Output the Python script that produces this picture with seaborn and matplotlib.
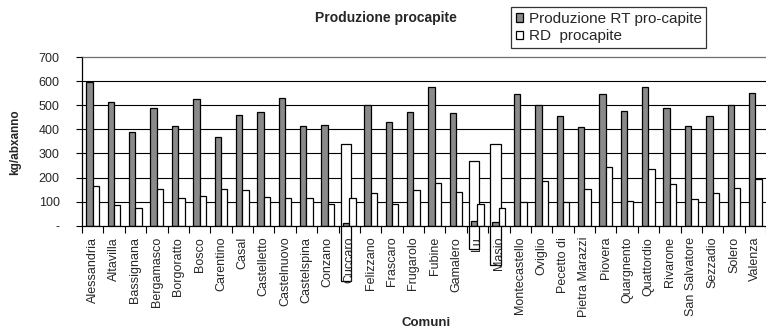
import numpy as np
import pandas as pd
import matplotlib
matplotlib.use("Agg")
import matplotlib.pyplot as plt
import seaborn as sns

comuni = [
    "Alessandria", "Altavilla", "Bassignana", "Bergamasco", "Borgoratto",
    "Bosco", "Carentino", "Casal", "Castelletto", "Castelnuovo",
    "Castelspina", "Conzano", "Cuccaro", "Felizzano", "Frascaro",
    "Frugarolo", "Fubine", "Gamalero", "Lu", "Masio", "Montecastello",
    "Oviglio", "Pecetto di", "Pietra Marazzi", "Piovera", "Quargnento",
    "Quattordio", "Rivarone", "San Salvatore", "Sezzadio", "Solero",
    "Valenza",
]
rt_procapite = [
    595, 512, 387, 488, 413, 526, 366, 459, 471, 530,
    412, 417, 10, 500, 429, 471, 576, 467, 20, 14, 546,
    500, 454, 408, 546, 475, 576, 488, 413, 454, 500,
    550,
]
rd_procapite = [
    166, 84, 75, 154, 113, 125, 154, 150, 121, 117,
    113, 88, 116, 134, 92, 150, 176, 138, 88, 72, 100,
    184, 100, 154, 242, 104, 234, 171, 109, 134, 158,
    192,
]
serie = ["Produzione RT pro-capite", "RD  procapite"]

# outlined boxes around some category labels (top, bottom in kg/abxanno)
riquadri_comuni = ["Cuccaro", "Lu", "Masio"]
riquadri_alto = [339, 268, 341]
riquadri_basso = [-230, -97, -164]

y_ticks = [0, 100, 200, 300, 400, 500, 600, 700]
y_tick_labels = ["-", "100", "200", "300", "400", "500", "600", "700"]

df = pd.DataFrame({
    "Comune": comuni * 2,
    "valore": rt_procapite + rd_procapite,
    "serie": [serie[0]] * len(comuni) + [serie[1]] * len(comuni),
})

sns.set_style("white")
plt.rcParams["font.family"] = ["Liberation Sans", "DejaVu Sans"]

W, H = 766, 330
fig = plt.figure(figsize=(W / 100, H / 100), dpi=100)
ax = fig.add_axes([82 / W, 1 - 225.7 / H, (W - 82) / W, (225.7 - 57) / H])

grigio = "#8a8a8a"
bar_w = 0.6
sns.barplot(
    data=df, x="Comune", y="valore", hue="serie", order=comuni,
    hue_order=serie, palette=[grigio, "white"], edgecolor="black",
    linewidth=0.9, width=bar_w, saturation=1, ax=ax, legend=True,
)

# label boxes drawn in the slot of the first series, behind the bars
pos = [comuni.index(c) - bar_w / 4 for c in riquadri_comuni]
ax.bar(
    pos, np.array(riquadri_alto) - np.array(riquadri_basso),
    bottom=riquadri_basso, width=0.48, color="white", edgecolor="black",
    linewidth=0.9, clip_on=False, zorder=0.9,
)

n = len(comuni)
ax.set_xlim(-0.5, n - 0.5)
ax.set_ylim(0, 700)
ax.set_yticks(y_ticks)
ax.set_yticklabels(y_tick_labels, fontsize=9)
ax.set_xticks(range(n))
ax.set_xticklabels(comuni, rotation=90, fontsize=9, va="top", ha="center")
ax.set_xticks(np.arange(-0.5, n, 1), minor=True)
ax.tick_params(axis="x", which="major", length=0, pad=8)
ax.tick_params(axis="x", which="minor", length=5, width=0.8,
               direction="out", color="black", bottom=True)
ax.tick_params(axis="y", length=4, width=0.8, direction="out",
               color="black", pad=12, left=True)

# horizontal gridlines under the bars; axis texts stay above everything
for y in y_ticks[1:-1]:
    ax.axhline(y, color="black", linewidth=0.8, zorder=0.5)
ax.grid(False)
ax.set_axisbelow(False)

for s in ["left", "bottom"]:
    ax.spines[s].set_color("black")
    ax.spines[s].set_linewidth(0.9)
ax.spines["right"].set_visible(False)
ax.spines["top"].set_color("#6e6e6e")
ax.spines["top"].set_linewidth(0.9)

ax.set_xlabel("")
ax.set_ylabel("")

handles, labels = ax.get_legend_handles_labels()
ax.get_legend().remove()
leg = fig.legend(
    handles, labels, loc="upper left",
    bbox_to_anchor=(511 / W, 1 - 7 / H), borderaxespad=0,
    fontsize=11, frameon=True, fancybox=False, shadow=False,
    handlelength=0.5, handleheight=0.5, handletextpad=0.35,
    borderpad=0.3, labelspacing=0.25,
)
leg.get_frame().set_edgecolor("black")
leg.get_frame().set_linewidth(0.9)

fig.text(386 / W, 1 - 18 / H, "Produzione procapite", ha="center",
         va="center", fontsize=10, fontweight="bold")
fig.text(15 / W, 1 - 142.5 / H, "kg/abxanno", ha="center", va="center",
         rotation=90, fontsize=8.5, fontweight="bold")
fig.text(426 / W, 1 - 323.5 / H, "Comuni", ha="center", va="center",
         fontsize=9.5, fontweight="bold")

fig.savefig("out.png", dpi=100, facecolor="white")
